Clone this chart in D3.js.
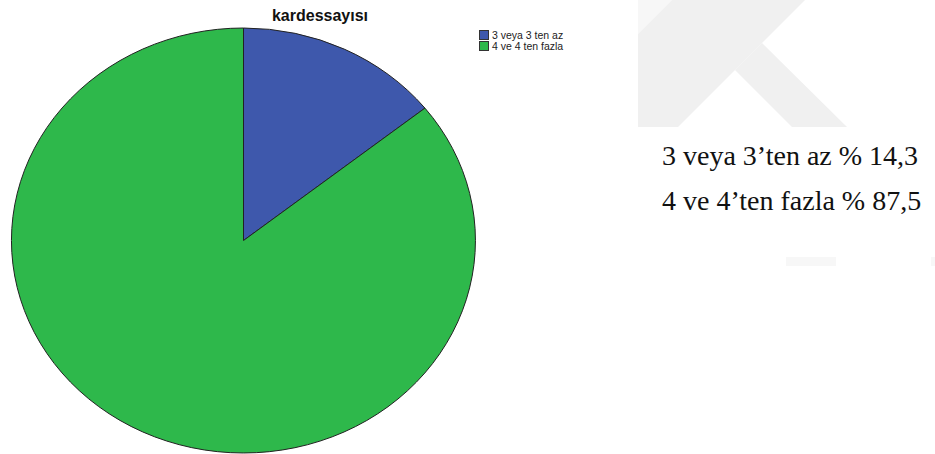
<!DOCTYPE html>
<html>
<head>
<meta charset="utf-8">
<script src="https://cdn.jsdelivr.net/npm/d3@7"></script>
<style>
  html, body { margin: 0; padding: 0; background: #fff; }
  svg { display: block; }
</style>
</head>
<body>
<svg id="chart" width="935" height="454"></svg>
<script>
// ---- data ----
const title = "kardessayısı";
const categories = ["3 veya 3 ten az", "4 ve 4 ten fazla"];
const values = [14.3, 85.7];
const noteLabels = ["3 veya 3’ten az % 14,3", "4 ve 4’ten fazla % 87,5"];

// ---- styles ----
const sliceColors = ["#3e58ac", "#2eb84b"];

const svg = d3.select("#chart");

// watermark (light gray background shapes)
const wm = svg.append("g");
wm.append("polygon").attr("points", "638,0 672,0 638,34").attr("fill", "#f7f7f7");
wm.append("polygon").attr("points", "672,0 805,0 678,127 638,127 638,34").attr("fill", "#f0f0f0");
wm.append("polygon").attr("points", "762,43 847,127 792,127 735,70").attr("fill", "#f0f0f0");
wm.append("rect").attr("x", 786).attr("y", 257).attr("width", 50).attr("height", 9).attr("fill", "#f7f7f7");
wm.append("rect").attr("x", 931).attr("y", 257).attr("width", 4).attr("height", 9).attr("fill", "#f7f7f7");

// pie (elliptical)
const cx = 243.5, cy = 240.5, rx = 232, ry = 212.5;
const color = d3.scaleOrdinal().domain(categories).range(sliceColors);
const pie = d3.pie().sort(null).value(d => d.value);
const arc = d3.arc().innerRadius(0).outerRadius(1);
const pieData = pie(categories.map((c, i) => ({ cat: c, value: values[i] })));

const pg = svg.append("g").attr("transform", `translate(${cx},${cy}) scale(${rx},${ry})`);
pg.selectAll("path").data(pieData).enter().append("path")
  .attr("d", arc)
  .attr("fill", d => color(d.data.cat))
  .attr("stroke", "#222")
  .attr("stroke-width", 1)
  .attr("vector-effect", "non-scaling-stroke");

// title
svg.append("text")
  .attr("x", 320).attr("y", 21)
  .attr("text-anchor", "middle")
  .attr("font-family", "Liberation Sans, Arial, sans-serif")
  .attr("font-weight", "bold")
  .attr("font-size", 16)
  .attr("fill", "#111")
  .text(title);

// legend
const lg = svg.append("g");
const rowY = d3.scaleBand().domain(categories).range([30, 52]).paddingInner(0);
categories.forEach(c => {
  lg.append("rect")
    .attr("x", 479.5).attr("y", rowY(c) + 0.5)
    .attr("width", 9).attr("height", 9)
    .attr("fill", color(c)).attr("stroke", "#333").attr("stroke-width", 1);
  lg.append("text")
    .attr("x", 492).attr("y", rowY(c) + 8.5)
    .attr("font-family", "Liberation Sans, Arial, sans-serif")
    .attr("font-size", 10.5)
    .attr("fill", "#222")
    .text(c);
});

// annotation text
const noteY = d3.scalePoint().domain(noteLabels).range([165, 209.5]);
svg.selectAll("text.note").data(noteLabels).enter().append("text")
  .attr("class", "note")
  .attr("x", 662).attr("y", d => noteY(d))
  .attr("font-family", "Liberation Serif, Times New Roman, serif")
  .attr("font-size", 28)
  .attr("fill", "#111")
  .text(d => d);
</script>
</body>
</html>
